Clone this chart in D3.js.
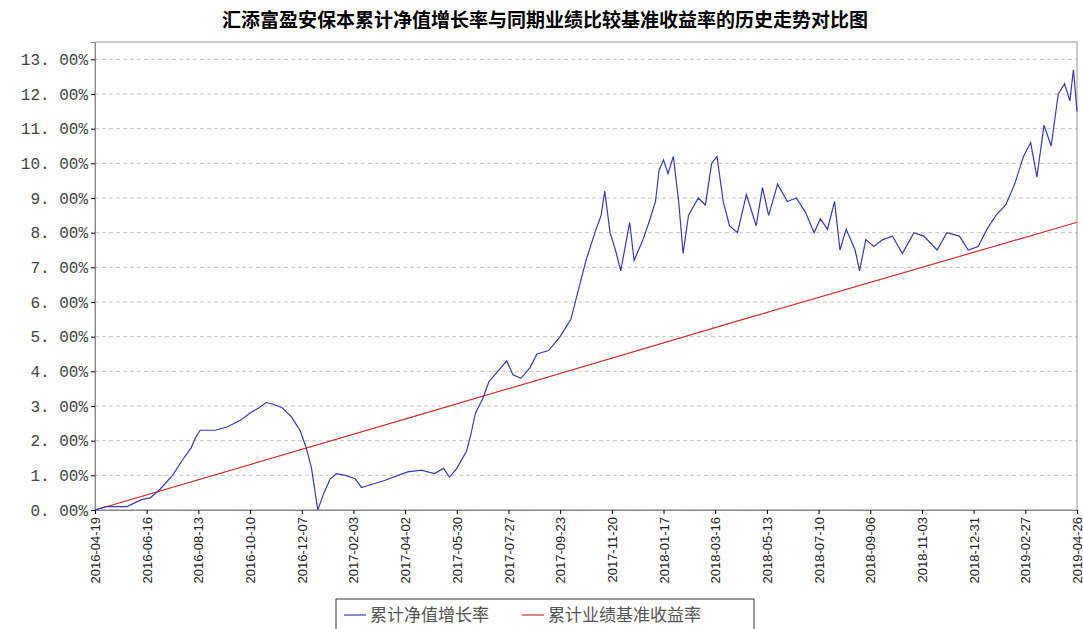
<!DOCTYPE html>
<html><head><meta charset="utf-8">
<script src="https://cdn.jsdelivr.net/npm/d3@7"></script>
<style>body{margin:0;background:#fff}</style>
</head><body>
<svg id="chart" width="1083" height="629"></svg>
<script>
const tickDates = ["2016-04-19","2016-06-16","2016-08-13","2016-10-10","2016-12-07","2017-02-03","2017-04-02","2017-05-30","2017-07-27","2017-09-23","2017-11-20","2018-01-17","2018-03-16","2018-05-13","2018-07-10","2018-09-06","2018-11-03","2018-12-31","2019-02-27","2019-04-26"];
const yTicks = [0,1,2,3,4,5,6,7,8,9,10,11,12,13];

const navDates = ["2016-04-19","2016-05-01","2016-05-25","2016-06-10","2016-06-20","2016-07-01","2016-07-15","2016-07-25","2016-08-05","2016-08-10","2016-08-15","2016-09-01","2016-09-15","2016-09-30","2016-10-10","2016-10-20","2016-10-28","2016-11-05","2016-11-15","2016-11-25","2016-12-05","2016-12-12","2016-12-18","2016-12-25",
"2017-01-01","2017-01-08","2017-01-15","2017-01-25","2017-02-05","2017-02-12","2017-02-25","2017-03-10","2017-03-25","2017-04-05","2017-04-20","2017-05-05","2017-05-15","2017-05-22","2017-05-30","2017-06-10","2017-06-15","2017-06-20","2017-06-28","2017-07-05","2017-07-15","2017-07-25","2017-08-01","2017-08-10","2017-08-20","2017-08-28","2017-09-10","2017-09-23","2017-10-05","2017-10-15","2017-10-22","2017-11-01","2017-11-08","2017-11-12","2017-11-18","2017-11-24","2017-11-30","2017-12-05","2017-12-10","2017-12-15","2017-12-25",
"2018-01-02","2018-01-08","2018-01-12","2018-01-17","2018-01-22","2018-01-28","2018-02-03","2018-02-08","2018-02-14","2018-02-25","2018-03-05","2018-03-12","2018-03-18","2018-03-25","2018-04-01","2018-04-10","2018-04-20","2018-05-01","2018-05-08","2018-05-15","2018-05-25","2018-06-05","2018-06-15","2018-06-25","2018-07-05","2018-07-12","2018-07-20","2018-07-28","2018-08-03","2018-08-10","2018-08-20","2018-08-25","2018-09-01","2018-09-10","2018-09-20","2018-10-01","2018-10-12","2018-10-25","2018-11-05","2018-11-20","2018-12-01","2018-12-15","2018-12-25",
"2019-01-05","2019-01-15","2019-01-25","2019-02-05","2019-02-15","2019-02-25","2019-03-05","2019-03-12","2019-03-20","2019-03-28","2019-04-05","2019-04-12","2019-04-18","2019-04-22","2019-04-26"];
const navValues = [0,0.1,0.1,0.3,0.35,0.6,1.0,1.4,1.8,2.1,2.3,2.3,2.4,2.6,2.8,2.95,3.1,3.05,2.95,2.7,2.3,1.8,1.2,0.0,
0.5,0.9,1.05,1.0,0.9,0.65,0.75,0.85,1.0,1.1,1.15,1.05,1.2,0.95,1.2,1.7,2.2,2.8,3.2,3.7,4.0,4.3,3.9,3.8,4.1,4.5,4.6,5.0,5.5,6.5,7.2,8.0,8.5,9.2,8.0,7.5,6.9,7.6,8.3,7.2,7.8,
8.4,8.9,9.8,10.1,9.7,10.2,8.9,7.4,8.5,9.0,8.8,10.0,10.2,8.9,8.2,8.0,9.1,8.2,9.3,8.5,9.4,8.9,9.0,8.6,8.0,8.4,8.1,8.9,7.5,8.1,7.5,6.9,7.8,7.6,7.8,7.9,7.4,8.0,7.9,7.5,8.0,7.9,7.5,
7.6,8.1,8.5,8.8,9.4,10.2,10.6,9.6,11.1,10.5,12.0,12.3,11.8,12.7,11.5];

const benchDates = ["2016-04-19","2017-04-19","2018-04-19","2019-04-26"];
const benchValues = [0,2.75,5.52,8.3];

const parse = d3.timeParse("%Y-%m-%d");
const svg = d3.select("#chart");
const mLeft = 95, mRight = 1077, mTop = 42, mBottom = 510;

svg.append("text").attr("x",545).attr("y",27).attr("text-anchor","middle")
  .attr("font-family","Noto Sans CJK SC").attr("font-weight","bold").attr("font-size",19)
  .text("汇添富盈安保本累计净值增长率与同期业绩比较基准收益率的历史走势对比图");

const x = d3.scaleTime([parse(tickDates[0]), parse(tickDates[tickDates.length-1])],[mLeft,mRight]);
const y = d3.scaleLinear([0,13.5],[mBottom,mTop]);

// grid
svg.append("g").selectAll("line").data(yTicks).join("line")
  .attr("x1",mLeft).attr("x2",mRight).attr("y1",d=>y(d)).attr("y2",d=>y(d))
  .attr("stroke","#c8c8c8").attr("stroke-dasharray","4,3");
svg.append("rect").attr("x",mLeft).attr("y",mTop).attr("width",mRight-mLeft).attr("height",mBottom-mTop)
  .attr("fill","none").attr("stroke","#999");

const yAxis = svg.append("g").attr("transform",`translate(${mLeft},0)`)
  .call(d3.axisLeft(y).tickValues(yTicks).tickSize(4).tickFormat(d=>d3.format(".2f")(d).replace(".",". ")+"%"));
yAxis.select(".domain").attr("stroke","#888");
yAxis.selectAll("text").attr("font-family","Liberation Mono").attr("font-size",16).attr("fill","#444");

const xAxis = svg.append("g").attr("transform",`translate(0,${mBottom})`)
  .call(d3.axisBottom(x).tickValues(tickDates.map(parse)).tickSize(4).tickFormat(d3.timeFormat("%Y-%m-%d")));
xAxis.select(".domain").attr("stroke","#888");
xAxis.selectAll("text").attr("font-family","Liberation Sans").attr("font-size",13).attr("fill","#222")
  .attr("transform","rotate(-90)").attr("text-anchor","end").attr("dx","-7").attr("dy","0.35em").attr("y",0).attr("x",0);

const line = d3.line().x(d=>x(d[0])).y(d=>y(d[1]));
svg.append("path").attr("fill","none").attr("stroke","#d03030").attr("stroke-width",1.2)
  .attr("d",line(benchDates.map((d,i)=>[parse(d),benchValues[i]])));
svg.append("path").attr("fill","none").attr("stroke","#3a3ab8").attr("stroke-width",1.2)
  .attr("d",line(navDates.map((d,i)=>[parse(d),navValues[i]])));

// legend
const lg = svg.append("g").attr("transform","translate(336,599)");
lg.append("rect").attr("width",418).attr("height",32).attr("fill","#fff").attr("stroke","#333");
const items = [["累计净值增长率","#3a3ab8",8],["累计业绩基准收益率","#d03030",186]];
items.forEach(([t,c,ox])=>{
  lg.append("line").attr("x1",ox).attr("x2",ox+22).attr("y1",16).attr("y2",16).attr("stroke",c).attr("stroke-width",1.2);
  lg.append("text").attr("x",ox+26).attr("y",22).attr("font-family","Noto Sans CJK SC").attr("font-size",17).attr("fill","#555").text(t);
});
</script>
</body></html>
